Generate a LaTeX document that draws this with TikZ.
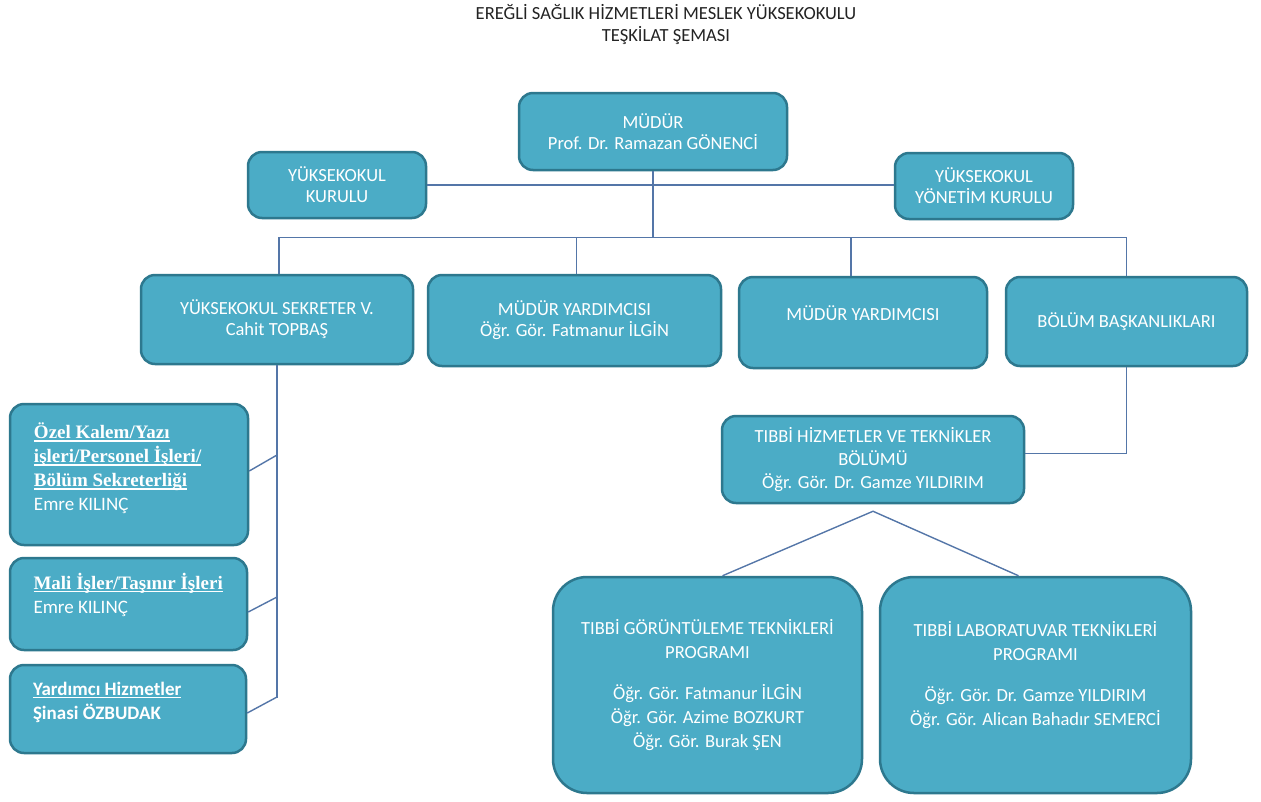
\documentclass[tikz,border=0pt]{standalone}
\usepackage{fontspec}
\setmainfont{Carlito}
\newfontfamily\serifbf{Liberation Serif}
\usetikzlibrary{positioning}
\definecolor{boxfill}{RGB}{75,172,198}
\definecolor{boxline}{RGB}{45,120,142}
\definecolor{linkline}{RGB}{84,118,168}
\definecolor{titlegray}{RGB}{35,35,35}
\newcommand{\topcontent}[3]{\parbox[c][#1pt][t]{190pt}{\raggedright\vspace*{#2pt}#3}}
\newcommand{\uln}[1]{\leavevmode\setbox0\hbox{#1}\rlap{\rule[-2.8pt]{\wd0}{1.3pt}}\box0}
\tikzset{
  orgbox/.style={draw=boxline, line width=2.5pt, fill=boxfill, rounded corners=14pt,
    text=white, align=center, inner sep=0pt, font=\fontsize{18.5}{21}\selectfont},
  bigbox/.style={orgbox, rounded corners=34pt, font=\fontsize{18.5}{24}\selectfont},
  leftbox/.style={orgbox, align=left, font=\fontsize{19}{24}\selectfont},
  link/.style={draw=linkline, line width=1.4pt}
}

\begin{document}
\begin{tikzpicture}[x=1pt, y=-1pt]
  \useasboundingbox[fill=white] (0,0) rectangle (1261,801);

  % title
  \node[align=center, text=titlegray, font=\fontsize{18.5}{22}\selectfont] (title) at (666,25)
    {EREĞLİ SAĞLIK HİZMETLERİ MESLEK YÜKSEKOKULU\\TEŞKİLAT ŞEMASI};

  % top level
  \node[orgbox, minimum width=268pt, minimum height=77pt] (mudur) at (653,131.5)
    {MÜDÜR\\Prof. Dr. Ramazan GÖNENCİ};
  \node[orgbox, minimum width=178pt, minimum height=66pt] (kurulu) at (337,185)
    {YÜKSEKOKUL\\KURULU};
  \node[orgbox, minimum width=178pt, minimum height=66pt] (yonetim) at (984,186)
    {YÜKSEKOKUL\\YÖNETİM KURULU};

  % second level
  \node[orgbox, minimum width=272pt, minimum height=89pt] (sekreter) at (277,319.5)
    {YÜKSEKOKUL SEKRETER V.\\Cahit TOPBAŞ};
  \node[orgbox, minimum width=293pt, minimum height=91pt] (yard1) at (574.5,320.5)
    {MÜDÜR YARDIMCISI\\Öğr. Gör. Fatmanur İLGİN};
  \node[orgbox, minimum width=248pt, minimum height=91pt, text depth=18pt] (yard2) at (863,322.5)
    {MÜDÜR YARDIMCISI};
  \node[orgbox, minimum width=241pt, minimum height=89pt] (baskan) at (1126.5,321.5)
    {BÖLÜM BAŞKANLIKLARI};

  % department and programmes
  \node[orgbox, minimum width=302pt, minimum height=87pt, font=\fontsize{18.5}{23}\selectfont] (tibbi) at (873,459.5)
    {TIBBİ HİZMETLER VE TEKNİKLER\\BÖLÜMÜ\\Öğr. Gör. Dr. Gamze YILDIRIM};
  \node[bigbox, minimum width=309pt, minimum height=216pt] (gorunt) at (707.5,685)
    {TIBBİ GÖRÜNTÜLEME TEKNİKLERİ\\PROGRAMI\\[17pt]Öğr. Gör. Fatmanur İLGİN\\Öğr. Gör. Azime BOZKURT\\Öğr. Gör. Burak ŞEN};
  \node[bigbox, minimum width=311pt, minimum height=216pt] (lab) at (1035.5,685)
    {TIBBİ LABORATUVAR TEKNİKLERİ\\PROGRAMI\\[17pt]Öğr. Gör. Dr. Gamze YILDIRIM\\Öğr. Gör. Alican Bahadır SEMERCİ\\~};

  % secretariat units
  \node[leftbox, minimum width=238pt, minimum height=141pt] (ozel) at (129,474.5)
    {\topcontent{141}{19}{{\serifbf\bfseries\uln{Özel Kalem/Yazı}\\\uln{işleri/Personel İşleri/}\\\uln{Bölüm Sekreterliği}}\\Emre KILINÇ}};
  \node[leftbox, minimum width=237pt, minimum height=92pt] (mali) at (128.5,604)
    {\topcontent{92}{15}{{\serifbf\bfseries\uln{Mali İşler/Taşınır İşleri}}\\Emre KILINÇ}};
  \node[leftbox, minimum width=236pt, minimum height=88pt] (yardimci) at (128,709)
    {\topcontent{88}{17}{{\bfseries\uln{Yardımcı Hizmetler}}\\\textbf{Şinasi ÖZBUDAK}}};

  % connectors
  \draw[link] (kurulu.east) -- (kurulu.east -| yonetim.west);
  \coordinate (bus) at ([yshift=-66pt]mudur.south);
  \draw[link] (mudur.south) -- (bus);
  \draw[link] ([xshift=2pt]sekreter.north) |- (bus) -| (baskan.north);
  \draw[link] ([xshift=2pt]yard1.north) -- ([xshift=2pt]yard1.north |- bus);
  \coordinate (drop2) at ([xshift=-12pt]yard2.north);
  \draw[link] (drop2) -- (drop2 |- bus);
  \draw[link] (baskan.south) |- ([yshift=6pt]tibbi.east);
  \coordinate (split) at ([yshift=-7pt]tibbi.south);
  \draw[link] ([xshift=15pt]gorunt.north) -- (split) -- ([xshift=-17pt]lab.north);

  \coordinate (spine) at (sekreter.south |- 0,698);
  \draw[link] (sekreter.south) -- (spine);
  \foreach \unit/\y/\dy in {ozel/455/3.5, mali/597/-8, yardimci/697/-4}
    \draw[link] (sekreter.south |- 0,\y) -- ([yshift=\dy pt]\unit.east);
\end{tikzpicture}
\end{document}
